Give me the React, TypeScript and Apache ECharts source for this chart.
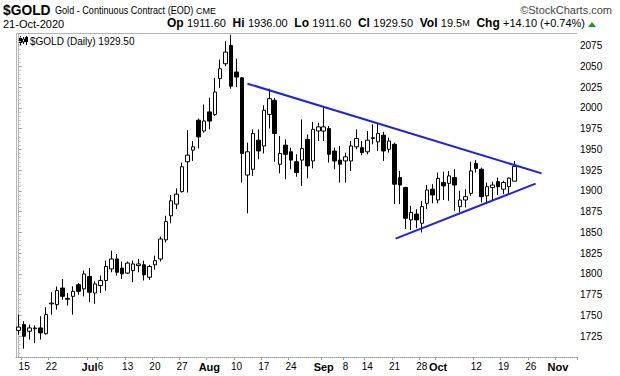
import React, { useEffect, useRef } from 'react';
import * as echarts from 'echarts';

// ---- calendar ----
const START_DATE = '2020-06-12';
const END_DATE = '2020-11-05';
const HOLIDAYS = ['2020-07-03', '2020-09-07'];

// ---- OHLC (Jun 12 2020 -> Oct 21 2020) ----
const opens = [
  1732, 1739, 1731, 1734, 1735, 1728, 1764, 1763, 1783, 1769.5,
  1773, 1787, 1782, 1797, 1777, 1786, 1792, 1806, 1818, 1807,
  1801, 1804, 1810, 1811, 1796, 1811, 1818, 1841, 1870, 1884,
  1899, 1935, 1949, 1985, 1972, 1995, 1992, 2035, 2053, 2075,
  2043, 2036, 1919, 1926, 1961, 1954, 1992, 2009, 1932, 1955,
  1947, 1935, 1937, 1962, 1936, 1972, 1972, 1975, 1948, 1937,
  1936, 1936, 1953, 1952, 1947, 1963, 1959, 1967, 1950, 1956,
  1916, 1904, 1865, 1872, 1861, 1885, 1902, 1889, 1910, 1909,
  1916, 1881, 1889, 1897, 1933, 1926, 1894, 1904, 1911, 1902,
  1905, 1911.6,
];
const closes = [
  1736, 1725, 1735, 1735, 1729, 1751, 1765, 1780, 1773, 1770.5,
  1779, 1779, 1800, 1778, 1788, 1792, 1809, 1818, 1802, 1800,
  1813, 1812, 1812, 1799, 1809, 1816, 1842, 1863, 1888, 1896,
  1929, 1943, 1953, 1965, 1984, 1984, 2019, 2047, 2067, 2026,
  2037, 1945, 1947, 1969, 1948, 1997, 2011, 1969, 1945, 1944,
  1937, 1922, 1951, 1930, 1974, 1977, 1977, 1944, 1936, 1932,
  1941, 1954, 1963, 1946, 1961, 1964, 1969, 1948, 1960, 1908,
  1907, 1867, 1874, 1865, 1881, 1901, 1895, 1915, 1906, 1918,
  1907, 1889, 1893, 1924, 1927, 1893, 1905, 1907, 1905, 1910,
  1915.4, 1929.5,
];
const lows = [
  1727, 1710, 1721, 1717, 1721, 1727, 1751, 1757, 1769, 1762,
  1751, 1775, 1773, 1766, 1764, 1777, 1780, 1802, 1798, 1794,
  1800, 1790, 1802, 1792, 1793, 1805, 1815, 1838, 1861, 1878,
  1898, 1898, 1936, 1951, 1970, 1974, 1990, 2024, 2050, 2023,
  2025, 1910, 1873, 1918, 1938, 1945, 1975, 1935, 1921, 1914,
  1926, 1917, 1906, 1915, 1927, 1960, 1960, 1934, 1926, 1910,
  1910, 1924, 1950, 1943, 1944, 1956, 1948, 1936, 1946, 1884,
  1884, 1854, 1853, 1855, 1850, 1878, 1885, 1885, 1889, 1888,
  1876, 1874, 1880, 1894, 1922, 1886, 1884, 1888, 1895, 1896,
  1896, 1911.6,
];
const highs = [
  1751, 1743, 1739, 1738, 1749, 1760, 1778, 1785, 1794, 1777,
  1785, 1789, 1804, 1807, 1791, 1798, 1816, 1828, 1824, 1815,
  1815, 1816, 1818, 1816, 1811, 1822, 1845, 1870, 1895, 1903,
  1934, 1973, 1960, 1987, 2004, 2012, 2036, 2058, 2080, 2088,
  2059, 2037, 1958, 1974, 1974, 2003, 2023, 2012, 1966, 1962,
  1952, 1944, 1986, 1968, 1983, 1982, 2000, 1978, 1952, 1954,
  1946, 1960, 1974, 1960, 1972, 1980, 1981, 1971, 1964, 1958,
  1924, 1905, 1882, 1878, 1888, 1907, 1908, 1922, 1923, 1924,
  1926, 1900, 1902, 1935, 1937, 1928, 1910, 1911, 1916, 1912,
  1916, 1936,
];

// ---- trendlines: [category index, price] ----
const upperTrend = [[42.0, 2029], [96.0, 1921]];
const lowerTrend = [[69.2, 1842.5], [94.9, 1908.7]];

// ---- axis labels ----
const tickDates = [
  '2020-06-15', '2020-06-22', '2020-07-01', '2020-07-06', '2020-07-13', '2020-07-20', '2020-07-27',
  '2020-08-03', '2020-08-10', '2020-08-17', '2020-08-24', '2020-09-01', '2020-09-08', '2020-09-14',
  '2020-09-21', '2020-09-28', '2020-10-01', '2020-10-12', '2020-10-19', '2020-10-26', '2020-11-02',
];
const tickTexts = [
  '15', '22', 'Jul', '6', '13', '20', '27',
  'Aug', '10', '17', '24', 'Sep', '8', '14',
  '21', '28', 'Oct', '12', '19', '26', 'Nov',
];
const Y_MIN = 1700;
const Y_MAX = 2090;
const Y_STEP = 25;

function tradingDays(start: string, end: string, holidays: string[]): string[] {
  const out: string[] = [];
  const d = new Date(start + 'T00:00:00Z');
  const e = new Date(end + 'T00:00:00Z');
  while (d <= e) {
    const wd = d.getUTCDay();
    const s = d.toISOString().slice(0, 10);
    if (wd !== 0 && wd !== 6 && holidays.indexOf(s) < 0) out.push(s);
    d.setUTCDate(d.getUTCDate() + 1);
  }
  return out;
}

const FONT = '"Liberation Sans", Arial, sans-serif';
const GRID = { left: 16, right: 43, top: 33, bottom: 19 };
const W = 620;
const H = 376;

export default function App() {
  const ref = useRef<HTMLDivElement>(null);
  useEffect(() => {
    if (!ref.current) return;
    const chart = echarts.init(ref.current, undefined, { renderer: 'svg' });
    const dates = tradingDays(START_DATE, END_DATE, HOLIDAYS);
    const labelMap: Record<string, string> = {};
    tickDates.forEach((d, k) => (labelMap[d] = tickTexts[k]));
    const candle = opens.map((o, i) => [o, closes[i], lows[i], highs[i]]);
    const gx0 = GRID.left;
    const gx1 = W - GRID.right;
    const gy0 = GRID.top;
    const gy1 = H - GRID.bottom;

    chart.setOption({
      animation: false,
      backgroundColor: '#fff',
      grid: { left: GRID.left, right: GRID.right, top: GRID.top, bottom: GRID.bottom, containLabel: false },
      xAxis: [
        {
          type: 'category',
          data: dates,
          boundaryGap: true,
          axisLine: { show: true, lineStyle: { color: '#a0a0a0', type: 'dotted', width: 1 } },
          axisTick: {
            show: true,
            length: 3,
            interval: (idx: number, v: string) => labelMap[v] !== undefined,
            lineStyle: { color: '#a0a0a0' },
          },
          axisLabel: {
            interval: (idx: number, v: string) => labelMap[v] !== undefined,
            hideOverlap: false,
            margin: 4,
            fontFamily: FONT,
            fontSize: 10,
            color: '#000',
            formatter: (v: string) => {
              const t = labelMap[v];
              if (t === undefined) return '';
              return /^[A-Za-z]/.test(t) ? '{b|' + t + '}' : t;
            },
            rich: { b: { fontWeight: 'bold', fontSize: 11, fontFamily: FONT, color: '#000' } },
          },
          splitLine: { show: false },
        },
        { type: 'value', min: -0.5, max: dates.length - 0.5, show: false },
      ],
      yAxis: [
        {
          type: 'value',
          position: 'right',
          min: Y_MIN,
          max: Y_MAX,
          interval: Y_STEP,
          scale: true,
          axisLine: { show: true, lineStyle: { color: '#a0a0a0', type: 'dotted' } },
          axisTick: { show: true, length: 3, lineStyle: { color: '#a0a0a0' } },
          minorTick: { show: true, splitNumber: 5, length: 2, lineStyle: { color: '#c8c8c8' } },
          axisLabel: {
            margin: 3,
            fontFamily: FONT,
            fontSize: 10,
            color: '#000',
            showMinLabel: false,
            showMaxLabel: false,
            formatter: (v: number) => (v % Y_STEP === 0 && v > Y_MIN && v < Y_MAX ? String(v) : ''),
          },
          splitLine: { show: false },
        },
      ],
      series: [
        {
          type: 'candlestick',
          data: candle,
          barWidth: 4,
          itemStyle: {
            color: '#fff',
            color0: '#000',
            borderColor: '#000',
            borderColor0: '#000',
            borderWidth: 1,
          },
          silent: true,
        },
        {
          type: 'line',
          xAxisIndex: 1,
          data: upperTrend,
          symbol: 'none',
          lineStyle: { color: '#1e1ef0', width: 2 },
          silent: true,
        },
        {
          type: 'line',
          xAxisIndex: 1,
          data: lowerTrend,
          symbol: 'none',
          lineStyle: { color: '#1e1ef0', width: 2 },
          silent: true,
        },
      ],
      graphic: [
        // frame: left solid, top solid
        { type: 'line', shape: { x1: gx0 + 0.5, y1: gy0, x2: gx0 + 0.5, y2: gy1 }, style: { stroke: '#b4b4b4', lineWidth: 1 }, silent: true },
        { type: 'line', shape: { x1: gx0, y1: gy0 + 0.5, x2: gx1, y2: gy0 + 0.5 }, style: { stroke: '#b4b4b4', lineWidth: 1 }, silent: true },
        // header line 1
        { type: 'text', x: 3, y: 2, scaleX: 0.92, style: { text: '$GOLD', font: 'bold 15px ' + FONT, fill: '#000' } },
        { type: 'text', x: 55, y: 5, scaleX: 0.91, style: { text: 'Gold - Continuous Contract (EOD)', font: '10px ' + FONT, fill: '#000' } },
        { type: 'text', x: 196, y: 6, style: { text: 'CME', font: '9px ' + FONT, fill: '#000' } },
        { type: 'text', x: 612, y: 4, style: { text: '\u00A9StockCharts.com', font: '11px ' + FONT, fill: '#444', align: 'right' } },
        // header line 2
        { type: 'text', x: 3, y: 18, style: { text: '21-Oct-2020', font: '11px ' + FONT, fill: '#000' } },
        {
          type: 'text',
          x: 585,
          y: 17,
          style: {
            text: '{b|Op} {n|1911.60}  {b|Hi} {n|1936.00}  {b|Lo} {n|1911.60}  {b|Cl} {n|1929.50}  {b|Vol} {n|19.5}{s|M}  {b|Chg} {n|+14.10 (+0.74%)}',
            align: 'right',
            rich: {
              b: { font: 'bold 12px ' + FONT, fill: '#000' },
              n: { font: '11px ' + FONT, fill: '#000' },
              s: { font: '9px ' + FONT, fill: '#000' },
            },
          },
        },
        { type: 'polygon', shape: { points: [[588, 27], [596, 27], [592, 22]] }, style: { fill: '#1a9a1a' } },
        // in-plot legend
        {
          type: 'group',
          x: 19,
          y: 36,
          children: [
            { type: 'line', shape: { x1: 1.5, y1: 0, x2: 1.5, y2: 9 }, style: { stroke: '#000', lineWidth: 1 } },
            { type: 'rect', shape: { x: 0, y: 2, width: 3, height: 5 }, style: { fill: '#000' } },
            { type: 'line', shape: { x1: 4.5, y1: 1, x2: 4.5, y2: 8 }, style: { stroke: '#000', lineWidth: 1 } },
            { type: 'rect', shape: { x: 3.5, y: 3, width: 2, height: 3 }, style: { fill: '#fff', stroke: '#000', lineWidth: 1 } },
            { type: 'line', shape: { x1: 7.5, y1: 0, x2: 7.5, y2: 9 }, style: { stroke: '#000', lineWidth: 1 } },
            { type: 'rect', shape: { x: 6, y: 1, width: 3, height: 5 }, style: { fill: '#000' } },
          ],
        },
        { type: 'text', x: 30, y: 36, style: { text: '$GOLD (Daily) 1929.50', font: '10px ' + FONT, fill: '#000' } },
      ],
    });
    return () => chart.dispose();
  }, []);
  return <div ref={ref} style={{ position: 'fixed', left: 0, top: 0, width: W, height: H }} />;
}
